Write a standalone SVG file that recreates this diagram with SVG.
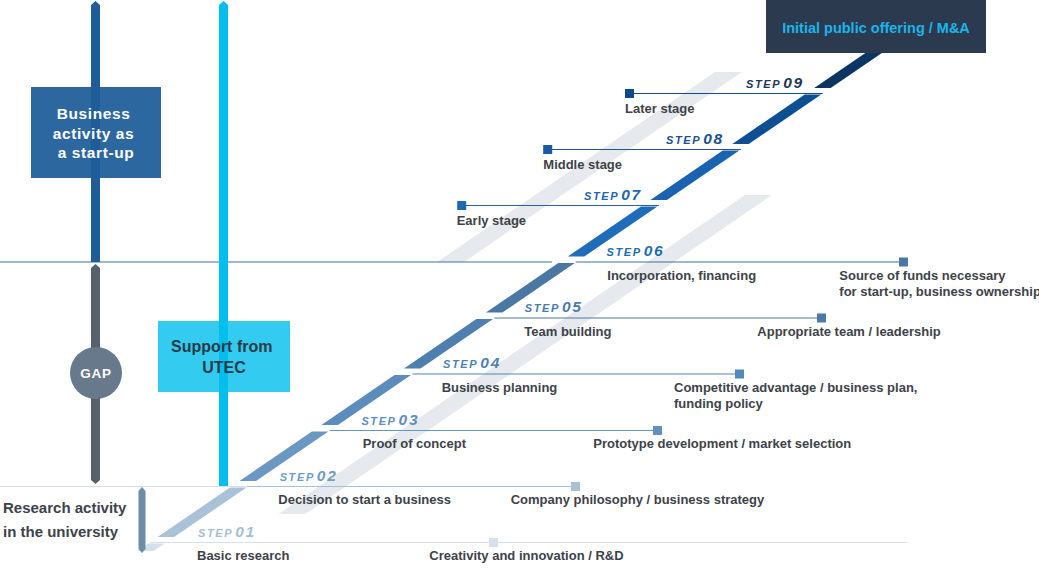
<svg xmlns="http://www.w3.org/2000/svg" width="1039" height="568" viewBox="0 0 1039 568">
<style>
.lbl{font-family:"Liberation Sans",Arial,sans-serif;font-weight:bold;font-size:13px;fill:#3d4249}
.st{font-family:"Liberation Sans",Arial,sans-serif;font-style:italic}
.st .w{font-size:11px;letter-spacing:1.6px;font-weight:bold}
.st .n{font-size:15.5px;letter-spacing:1.8px;font-weight:bold}
.gray{fill:#e6e9ed}
.ln{fill:none;stroke-width:1.2}
</style>
<rect width="1039" height="568" fill="#ffffff"/>
<g id="background-bands">
<polygon class="gray" points="715,72 742,72 464.1,262 437.1,262"/>
<polygon class="gray" points="745,195 772,195 305.5,514 278.5,514"/>
</g>
<g id="connectors">
<line class="ln" x1="629.5" y1="93.5" x2="822.7" y2="93.5" stroke="#114a8b"/>
<line class="ln" x1="547.7" y1="149.5" x2="740.8" y2="149.5" stroke="#1a56a0"/>
<line class="ln" x1="461.7" y1="205.5" x2="658.9" y2="205.5" stroke="#1f64b0"/>
<line class="ln" x1="0" y1="262" x2="552" y2="262" stroke="#3c72a3"/>
<line class="ln" x1="575.6" y1="262" x2="903.5" y2="262" stroke="#3c72a3"/>
<line class="ln" x1="494.4" y1="318" x2="821.5" y2="318" stroke="#4a7aa8"/>
<line class="ln" x1="412.5" y1="374" x2="739.5" y2="374" stroke="#4f86bb"/>
<line class="ln" x1="329.8" y1="430.5" x2="657.5" y2="430.5" stroke="#6796c2"/>
<line class="ln" x1="0" y1="486.5" x2="247" y2="486.5" stroke="#d9dee5"/>
<line class="ln" x1="247" y1="486.5" x2="575.5" y2="486.5" stroke="#a6c0d8"/>
<line class="ln" x1="150" y1="542.5" x2="907" y2="542.5" stroke="#d6e1eb"/>
</g>
<g id="staircase">
<polygon points="137.1,551 153.6,551 164.6,543.5 148.1,543.5" fill="#d3e0eb"/>
</g>
<g id="step01">
<polygon points="230.0,487.5 246.5,487.5 174.1,537 157.6,537" fill="#a9c2d7"/>
<rect x="489" y="538" width="9" height="9" fill="#d5e2ed"/>
<text class="st" x="198" y="536.5" fill="#a7bdd2"><tspan class="w">STEP</tspan><tspan class="n" dx="2">01</tspan></text>
<text class="lbl" x="197" y="559.5">Basic research</text>
<text class="lbl" x="429.3" y="559.5">Creativity and innovation / R&amp;D</text>
</g>
<g id="step02">
<polygon points="311.9,431.5 328.4,431.5 256.0,481 239.5,481" fill="#6a98c2"/>
<rect x="571" y="482" width="9" height="9" fill="#a9c1d6"/>
<text class="st" x="279.7" y="480.5" fill="#6f9cc6"><tspan class="w">STEP</tspan><tspan class="n" dx="2">02</tspan></text>
<text class="lbl" x="278.3" y="503.5">Decision to start a business</text>
<text class="lbl" x="510.7" y="503.5">Company philosophy / business strategy</text>
</g>
<g id="step03">
<polygon points="394.5,375 411.0,375 337.9,425 321.4,425" fill="#5b8cbb"/>
<rect x="653" y="426" width="9" height="9" fill="#5f92c0"/>
<text class="st" x="361.4" y="424.5" fill="#5b8ec2"><tspan class="w">STEP</tspan><tspan class="n" dx="2">03</tspan></text>
<text class="lbl" x="362.7" y="447.5">Proof of concept</text>
<text class="lbl" x="593.3" y="447.5">Prototype development / market selection</text>
</g>
<g id="step04">
<polygon points="476.4,319 492.9,319 420.5,368.5 404.0,368.5" fill="#4d80b0"/>
<rect x="735" y="369.5" width="9" height="9" fill="#4f88bf"/>
<text class="st" x="443.1" y="368" fill="#4f82b4"><tspan class="w">STEP</tspan><tspan class="n" dx="2">04</tspan></text>
<text class="lbl" x="441.7" y="391.5">Business planning</text>
<text class="lbl" x="674" y="391.5">Competitive advantage / business plan,</text>
<text class="lbl" x="674" y="407.5">funding policy</text>
</g>
<g id="step05">
<polygon points="558.3,263 574.8,263 502.4,312.5 485.9,312.5" fill="#4a78a3"/>
<rect x="817" y="313.5" width="9" height="9" fill="#4a7aa8"/>
<text class="st" x="524.8" y="312" fill="#4b7bab"><tspan class="w">STEP</tspan><tspan class="n" dx="2">05</tspan></text>
<text class="lbl" x="524.3" y="335.5">Team building</text>
<text class="lbl" x="757.3" y="335.5">Appropriate team / leadership</text>
</g>
<g id="step06">
<polygon points="640.9,206.5 657.4,206.5 584.3,256.5 567.8,256.5" fill="#1f6db9"/>
<rect x="899" y="257.5" width="9" height="9" fill="#4a78a4"/>
<text class="st" x="606.5" y="256" fill="#1f6cb6"><tspan class="w">STEP</tspan><tspan class="n" dx="2">06</tspan></text>
<text class="lbl" x="607.3" y="279.5">Incorporation, financing</text>
<text class="lbl" x="839.3" y="279.5">Source of funds necessary</text>
<text class="lbl" x="839.3" y="295.7">for start-up, business ownership</text>
</g>
<g id="step07">
<polygon points="722.8,150.5 739.3,150.5 666.9,200 650.4,200" fill="#1b63b0"/>
<rect x="457.2" y="201" width="9" height="9" fill="#1f68b5"/>
<text class="st" x="584" y="199.5" fill="#2066b0"><tspan class="w">STEP</tspan><tspan class="n" dx="2">07</tspan></text>
<text class="lbl" x="456.7" y="225">Early stage</text>
</g>
<g id="step08">
<polygon points="804.7,94.5 821.2,94.5 748.8,144 732.3,144" fill="#0d4f93"/>
<rect x="543.2" y="145" width="9" height="9" fill="#1a5aa3"/>
<text class="st" x="666" y="143.5" fill="#1b4f8e"><tspan class="w">STEP</tspan><tspan class="n" dx="2">08</tspan></text>
<text class="lbl" x="543.3" y="169">Middle stage</text>
</g>
<g id="step09">
<polygon points="877.1,45 893.6,45 830.7,88 814.2,88" fill="#0b3563"/>
<rect x="625" y="89" width="9" height="9" fill="#0e4a8a"/>
<text class="st" x="746" y="87.5" fill="#1d3557"><tspan class="w">STEP</tspan><tspan class="n" dx="2">09</tspan></text>
<text class="lbl" x="625" y="112.7">Later stage</text>
</g>
<g id="ipo">
<rect x="766" y="0" width="220" height="53" fill="#2b3a4f"/>
<text x="876" y="32.5" text-anchor="middle" font-family="'Liberation Sans',Arial,sans-serif" font-weight="bold" font-size="14.5" fill="#19b5e8">Initial public offering / M&amp;A</text>
</g>
<g id="startup-bar">
<polygon points="91,5 95.5,1 100,5 100,262 91,262" fill="#1f5d99"/>
<rect x="31" y="87" width="130" height="91" fill="#1f5d99" fill-opacity="0.94"/>
<text font-family="'Liberation Sans',Arial,sans-serif" font-weight="bold" font-size="15.5" letter-spacing="0.6" fill="#ffffff" text-anchor="middle">
<tspan x="96" y="119">Business</tspan>
<tspan x="96" y="138.5">activity as</tspan>
<tspan x="96" y="158">a start-up</tspan>
</text>
</g>
<g id="gap">
<polygon points="91,268 95.5,264 100,268 100,480 95.5,484 91,480" fill="#56616c"/>
<circle cx="96" cy="373" r="26" fill="#67798a"/>
<text x="96" y="378" text-anchor="middle" font-family="'Liberation Sans',Arial,sans-serif" font-weight="bold" font-size="13.5" letter-spacing="0.8" fill="#ffffff">GAP</text>
</g>
<g id="utec">
<polygon points="219,5 223.5,1 228,5 228,486 219,486" fill="#00bfee"/>
<rect x="158" y="321" width="132" height="71" fill="#00bfec" fill-opacity="0.8"/>
<text font-family="'Liberation Sans',Arial,sans-serif" font-weight="bold" font-size="16" fill="#2a3a4a" text-anchor="middle">
<tspan x="224" y="352">Support from</tspan>
<tspan x="224" y="372.5">UTEC</tspan>
</text>
</g>
<g id="research">
<polygon points="138.5,491 142,487 145.5,491 145.5,549 142,553 138.5,549" fill="#6f8ca6"/>
<text font-family="'Liberation Sans',Arial,sans-serif" font-weight="bold" font-size="15" fill="#3d4249">
<tspan x="3" y="513.3">Research activity</tspan>
<tspan x="3" y="536.7">in the university</tspan>
</text>
</g>
</svg>
